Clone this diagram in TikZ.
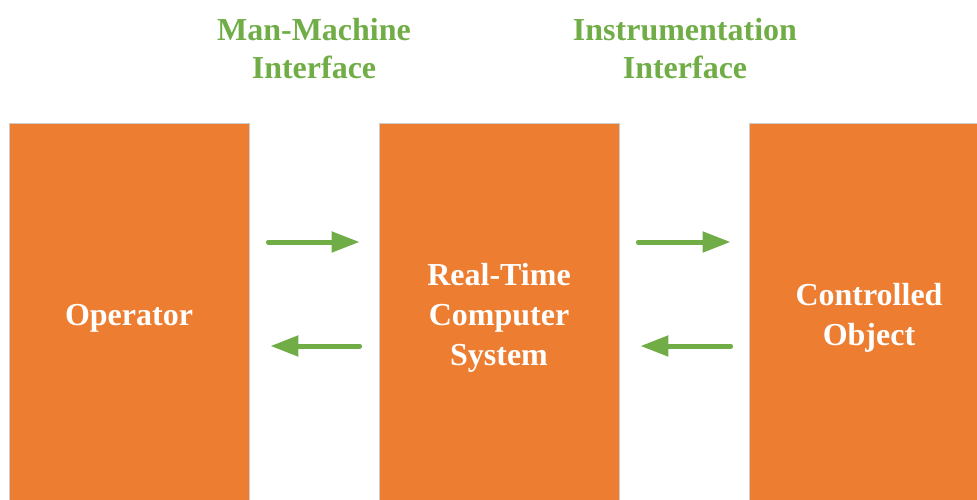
\documentclass[tikz,border=0pt]{standalone}
\usepackage{fontspec}
\setmainfont{Liberation Serif}
\usetikzlibrary{arrows.meta}
\definecolor{boxorange}{HTML}{ED7D31}
\definecolor{linkgreen}{HTML}{70AD47}
\tikzset{
  blk/.style={fill=boxorange, draw=black!20, line width=0.8pt,
    minimum width=240pt, minimum height=390pt, inner sep=0pt,
    text=white, align=center, font=\bfseries\fontsize{32}{40}\selectfont},
  ifacelabel/.style={text=linkgreen, align=center,
    font=\bfseries\fontsize{32}{38}\selectfont},
  flow/.style={draw=linkgreen, line width=5pt, line cap=round,
    -{Triangle[length=28pt,width=20pt]}}
}
\begin{document}
\begin{tikzpicture}[x=1pt,y=-1pt]
  \useasboundingbox (0,0) rectangle (977,500);
  \clip (0,0) rectangle (977,500);

  % the three blocks (their lower edges run past the page)
  \node[blk] (op)  at (129,318) {Operator};
  \node[blk] (rtc) at (499,318) {Real-Time\\Computer\\System};
  \node[blk] (obj) at (869,318) {Controlled\\Object};

  % interface labels
  \node[ifacelabel] (mmi) at (314,49) {Man-Machine\\Interface};
  \node[ifacelabel] (ins) at (685,49) {Instrumentation\\Interface};

  % operator <-> computer
  \draw[flow] ([xshift=19pt,yshift=76pt]op.east) -- ([xshift=-19pt,yshift=76pt]rtc.west);
  \draw[flow] ([xshift=-19pt,yshift=-28pt]rtc.west) -- ([xshift=21pt,yshift=-28pt]op.east);

  % computer <-> controlled object
  \draw[flow] ([xshift=19pt,yshift=76pt]rtc.east) -- ([xshift=-18pt,yshift=76pt]obj.west);
  \draw[flow] ([xshift=-18pt,yshift=-28pt]obj.west) -- ([xshift=21pt,yshift=-28pt]rtc.east);
\end{tikzpicture}
\end{document}
